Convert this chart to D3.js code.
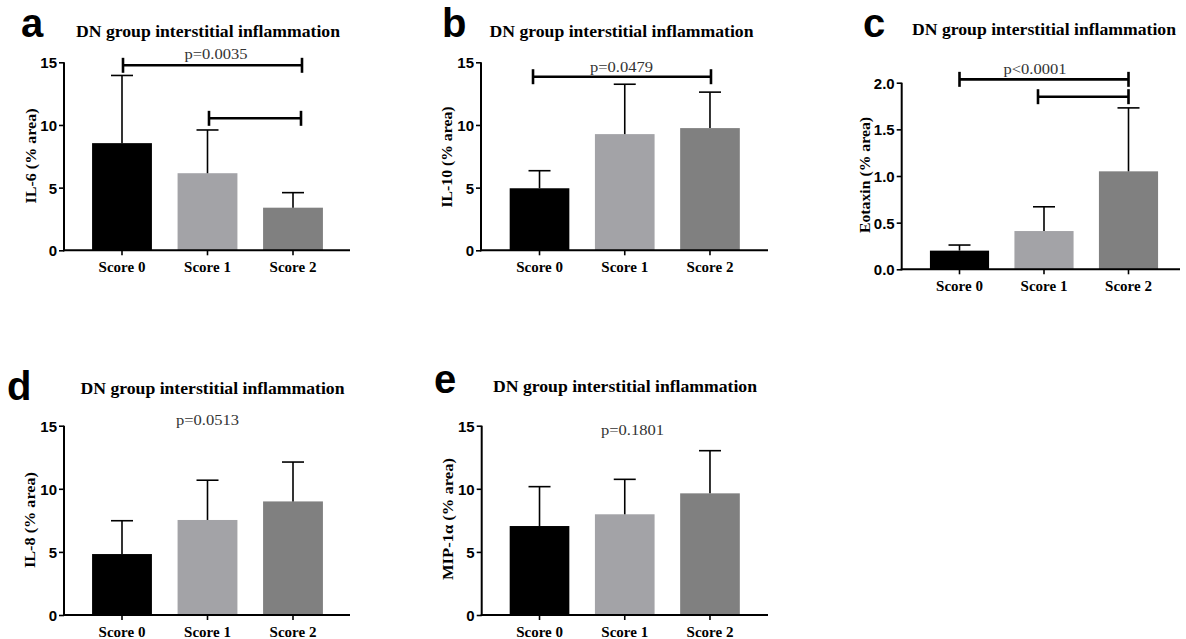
<!DOCTYPE html>
<html><head><meta charset="utf-8">
<script src="https://cdn.jsdelivr.net/npm/d3@7"></script>
<style>
html,body{margin:0;padding:0;background:#fff;}
svg{display:block;}
</style></head>
<body>
<svg id="chart" width="1186" height="639"></svg>
<script>
// ---------- data ----------
const categories = ["Score 0", "Score 1", "Score 2"];
const il6Mean = [8.55, 6.15, 3.4];
const il6SD = [5.4, 3.45, 1.2];
const il10Mean = [4.95, 9.27, 9.75];
const il10SD = [1.4, 3.98, 2.87];
const eotaxinMean = [0.2, 0.41, 1.05];
const eotaxinSD = [0.06, 0.26, 0.68];
const il8Mean = [4.83, 7.53, 9.0];
const il8SD = [2.64, 3.15, 3.12];
const mip1aMean = [7.05, 7.98, 9.64];
const mip1aSD = [3.12, 2.77, 3.38];
const yTicks15 = [0, 5, 10, 15];
const yTicksEotaxin = [0, 0.5, 1.0, 1.5, 2.0];
const yLabels = ["IL-6 (% area)", "IL-10 (% area)", "Eotaxin (% area)", "IL-8 (% area)", "MIP-1\u03b1 (% area)"];
const panelLetters = ["a", "b", "c", "d", "e"];
const titleText = "DN group interstitial inflammation";
const pLabels = ["p=0.0035", "p=0.0479", "p<0.0001", "p=0.0513", "p=0.1801"];
// brackets: [fromCategoryIndex, toCategoryIndex, yValue]
const bracketsA = [[0, 2, 14.76], [1, 2, 10.53]];
const bracketsB = [[0, 2, 13.85]];
const bracketsC = [[0, 2, 2.036], [1, 2, 1.85]];

const colors = ["#000000", "#a3a3a7", "#808080"];

// ---------- layout ----------
const panels = [
  {mean: il6Mean, sd: il6SD, ticks: yTicks15, fmt: d3.format("d"), ymax: 15, label: yLabels[0], letter: panelLetters[0], p: pLabels[0],
   ax: 64, axEnd: 350, top: 62.3, bottom: 250.3, band: [79.25, 335.75],
   letterPos: [21, 37], titleX: 208, titleY: 37, ylab: [31, 156, 95], pPos: [216, 59],
   brackets: bracketsA, bdx: [[1, 9], [1.5, 8]]},
  {mean: il10Mean, sd: il10SD, ticks: yTicks15, fmt: d3.format("d"), ymax: 15, label: yLabels[1], letter: panelLetters[1], p: pLabels[1],
   ax: 481, axEnd: 768, top: 62.3, bottom: 250.3, band: [496.9, 752.6],
   letterPos: [442, 37], titleX: 621.5, titleY: 37, ylab: [447, 157, 101], pPos: [621.5, 71.5],
   brackets: bracketsB, bdx: [[-6.5, 1]]},
  {mean: eotaxinMean, sd: eotaxinSD, ticks: yTicksEotaxin, fmt: d3.format(".1f"), ymax: 2.0, label: yLabels[2], letter: panelLetters[2], p: pLabels[2],
   ax: 901.7, axEnd: 1180, top: 82.7, bottom: 269.3, band: [917.25, 1170.75],
   letterPos: [863, 37], titleX: 1044, titleY: 35, ylab: [865, 175, 116], pPos: [1035, 74],
   brackets: bracketsC, bdx: [[0, 0], [-6, 0]]},
  {mean: il8Mean, sd: il8SD, ticks: yTicks15, fmt: d3.format("d"), ymax: 15, label: yLabels[3], letter: panelLetters[3], p: pLabels[3],
   ax: 64, axEnd: 350, top: 425.7, bottom: 615, band: [79.25, 335.75],
   letterPos: [7, 400], titleX: 212.5, titleY: 394, ylab: [30, 520, 96], pPos: [207.5, 425],
   brackets: [], bdx: []},
  {mean: mip1aMean, sd: mip1aSD, ticks: yTicks15, fmt: d3.format("d"), ymax: 15, label: yLabels[4], letter: panelLetters[4], p: pLabels[4],
   ax: 481.7, axEnd: 768, top: 425.7, bottom: 615, band: [496.9, 752.6],
   letterPos: [434, 393], titleX: 625, titleY: 392, ylab: [448, 519, 122], pPos: [632.5, 435],
   brackets: [], bdx: []}
];

const svg = d3.select("#chart");
const SERIF = "'Liberation Serif','Times New Roman',serif";
const SANS = "'Liberation Sans',Arial,sans-serif";

panels.forEach(P => {
  const g = svg.append("g");
  const x = d3.scaleBand().domain(categories).range(P.band).paddingInner(0.3).paddingOuter(0.15);
  const y = d3.scaleLinear().domain([0, P.ymax]).range([P.bottom, P.top]);
  const rows = categories.map((c, i) => ({cat: c, mean: P.mean[i], sd: P.sd[i], color: colors[i]}));

  g.selectAll("rect.bar").data(rows).join("rect")
    .attr("class", "bar")
    .attr("x", d => x(d.cat)).attr("width", x.bandwidth())
    .attr("y", d => y(d.mean)).attr("height", d => y(0) - y(d.mean))
    .attr("fill", d => d.color);

  const eb = g.selectAll("g.eb").data(rows).join("g").attr("class", "eb");
  eb.append("line")
    .attr("x1", d => x(d.cat) + x.bandwidth() / 2).attr("x2", d => x(d.cat) + x.bandwidth() / 2)
    .attr("y1", d => y(d.mean)).attr("y2", d => y(d.mean + d.sd))
    .attr("stroke", "#000").attr("stroke-width", 1.6);
  eb.append("line")
    .attr("x1", d => x(d.cat) + x.bandwidth() / 2 - 11).attr("x2", d => x(d.cat) + x.bandwidth() / 2 + 11)
    .attr("y1", d => y(d.mean + d.sd)).attr("y2", d => y(d.mean + d.sd))
    .attr("stroke", "#000").attr("stroke-width", 1.6);

  // y axis
  const yAxis = d3.axisLeft(y).tickValues(P.ticks).tickFormat(P.fmt).tickSize(5).tickPadding(2);
  const ya = g.append("g").attr("transform", `translate(${P.ax},0)`).call(yAxis);
  ya.select(".domain").remove();
  ya.selectAll(".tick line").attr("stroke", "#000").attr("stroke-width", 1.6);
  ya.selectAll(".tick text").attr("font-family", SANS).attr("font-weight", "bold")
    .attr("font-size", "15px").attr("fill", "#000").attr("dy", "0.36em");
  g.append("line").attr("x1", P.ax).attr("x2", P.ax).attr("y1", y(0) + 1).attr("y2", y(P.ymax))
    .attr("stroke", "#000").attr("stroke-width", 2);

  // x axis
  const xAxis = d3.axisBottom(x).tickSize(5).tickPadding(8);
  const xa = g.append("g").attr("transform", `translate(0,${P.bottom})`).call(xAxis);
  xa.select(".domain").remove();
  xa.selectAll(".tick line").attr("stroke", "#000").attr("stroke-width", 1.6);
  xa.selectAll(".tick text").attr("font-family", SERIF).attr("font-weight", "bold")
    .attr("font-size", "15px").attr("fill", "#000").attr("dy", "8.5px");
  g.append("line").attr("x1", P.ax - 1).attr("x2", P.axEnd).attr("y1", y(0)).attr("y2", y(0))
    .attr("stroke", "#000").attr("stroke-width", 2);

  // significance brackets
  P.brackets.forEach((b, i) => {
    const x1 = x(categories[b[0]]) + x.bandwidth() / 2 + P.bdx[i][0];
    const x2 = x(categories[b[1]]) + x.bandwidth() / 2 + P.bdx[i][1];
    const yy = y(b[2]);
    g.append("line").attr("x1", x1).attr("x2", x2).attr("y1", yy).attr("y2", yy)
      .attr("stroke", "#000").attr("stroke-width", 2.6);
    [x1, x2].forEach(xx => g.append("line").attr("x1", xx).attr("x2", xx)
      .attr("y1", yy - 7.5).attr("y2", yy + 7.5).attr("stroke", "#000").attr("stroke-width", 2.6));
  });

  // p value
  g.append("text").attr("x", P.pPos[0]).attr("y", P.pPos[1]).attr("text-anchor", "middle")
    .attr("font-family", SERIF).attr("font-size", "14.5px").attr("fill", "#333")
    .attr("textLength", 63).attr("lengthAdjust", "spacingAndGlyphs").text(P.p);

  // title
  g.append("text").attr("x", P.titleX).attr("y", P.titleY).attr("text-anchor", "middle")
    .attr("font-family", SERIF).attr("font-weight", "bold").attr("font-size", "16.5px").attr("fill", "#000")
    .attr("textLength", 264).attr("lengthAdjust", "spacingAndGlyphs").text(titleText);

  // panel letter
  g.append("text").attr("x", P.letterPos[0]).attr("y", P.letterPos[1])
    .attr("font-family", SANS).attr("font-weight", "bold").attr("font-size", "40px").attr("fill", "#000")
    .text(P.letter);

  // y label
  g.append("text").attr("transform", `translate(${P.ylab[0] + 5},${P.ylab[1]}) rotate(-90)`)
    .attr("text-anchor", "middle")
    .attr("font-family", SERIF).attr("font-weight", "bold").attr("font-size", "14px").attr("fill", "#000")
    .attr("textLength", P.ylab[2]).attr("lengthAdjust", "spacingAndGlyphs").text(P.label);
});
</script>
</body></html>
